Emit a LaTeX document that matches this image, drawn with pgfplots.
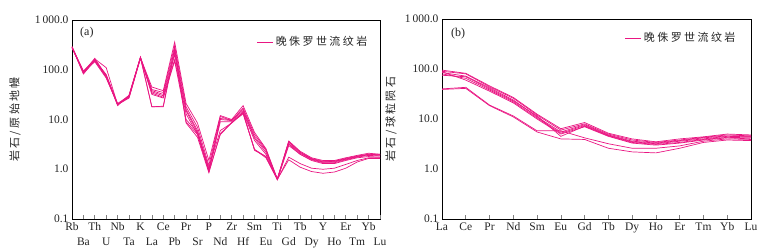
\documentclass[border=0pt]{standalone}
\usepackage{fontspec}
\setmainfont{Liberation Serif}
\newfontfamily\cjk[LetterSpace=22]{Noto Sans CJK SC}
\usepackage{pgfplots}
\usepackage{pgfplotstable}
\pgfplotsset{compat=1.18}
\definecolor{pk}{RGB}{233,22,130}
\definecolor{lbl}{RGB}{35,35,35}

\pgfplotstableread{
i s1 s2 s3 s4 s5 s6 s7 s8
0 290 285 280 275 285 295 280 285
1 88 82 90 95 85 92 88 90
2 165 155 170 160 150 145 160 155
3 110 80 75 70 72 68 75 78
4 20 20 19 20 21 20 20 20
5 30 29 31 28 30 27 30 28
6 175 170 178 172 180 170 175 178
7 45 40 38 36 34 32 18 18
8 38 35 32 30 28 27 18.5 18
9 360 300 250 200 160 150 280 230
10 21 18 16 15 13 10 9 8.5
11 8.5 7 6 5.5 5 5.5 5 4.4
12 1.5 1.2 1.0 0.9 0.95 1.1 0.9 0.85
13 12 11.5 10.5 10 9 6 5 5.2
14 10 9.5 9.8 9.5 9 8.5 8.5 8.7
15 19 17 16 15 14 13.5 14 13
16 5.5 5 4.5 4.2 3.8 2.5 2.4 2.5
17 2.6 2.5 2.4 2.2 2.0 1.8 1.8 1.7
18 0.64 0.63 0.62 0.63 0.64 0.62 0.62 0.63
19 3.7 3.5 3.3 3.2 3.6 3.0 1.75 1.55
20 2.3 2.2 2.1 2.0 2.2 2.0 1.3 1.1
21 1.7 1.65 1.6 1.55 1.6 1.5 1.05 0.9
22 1.5 1.45 1.4 1.35 1.4 1.3 1.0 0.83
23 1.5 1.45 1.4 1.35 1.45 1.3 1.05 0.88
24 1.7 1.65 1.6 1.55 1.6 1.5 1.25 1.05
25 1.9 1.85 1.8 1.75 1.8 1.7 1.5 1.4
26 2.1 2.0 1.95 1.9 2.0 1.8 1.7 1.65
27 2.0 1.95 1.9 1.85 2.0 1.75 1.7 1.65
}\tabA

\pgfplotstableread{
i s1 s2 s3 s4 s5 s6 s7 s8
0 95 90 85 80 75 88 40 39
1 82 80 72 65 70 60 43 41
2 46 44 42 38 40 36 19 18.5
3 27 26 24 22 23 21 11.5 11
4 12.5 12 11 10.5 11.5 10 5.8 5.5
5 6.4 6.0 5.5 5.2 4.5 5.0 5.8 4.0
6 8.5 8.0 7.7 7.4 7.2 7.0 4.2 3.9
7 5.2 5.0 4.8 4.7 4.6 4.5 3.2 2.6
8 4.0 3.8 3.6 3.5 3.4 3.3 2.6 2.2
9 3.5 3.4 3.3 3.2 3.1 3.0 2.6 2.1
10 4.0 3.8 3.7 3.6 3.4 3.3 2.9 2.6
11 4.4 4.3 4.2 4.0 3.9 3.8 3.6 3.4
12 5.0 4.8 4.6 4.5 4.3 4.2 4.0 3.8
13 4.8 4.6 4.5 4.4 4.2 4.0 3.9 3.7
}\tabB

\begin{document}
\begin{tikzpicture}
\path[use as bounding box] (-72pt,-31pt) rectangle (698pt,219pt);

\begin{axis}[scale only axis, width=308pt, height=199pt, at={(0pt,0pt)}, anchor=south west,
  ymode=log, ymin=0.1, ymax=1000,
  ytick={0.1,1,10,100,1000},
  yticklabels={0.1,1.0,10.0,100.0,1\,000.0},
  ytick style={draw=none},
  tick align=inside, xtick pos=left, major tick length=4pt,
  xtick style={line width=0.7pt},
  axis line style={line width=0.8pt},
  tick label style={font=\fontsize{11.5}{13}\selectfont, text=lbl},
  legend style={draw=none, fill=none, inner sep=0pt, outer sep=0pt,
    font=\cjk\fontsize{11}{13}\selectfont, text=lbl, anchor=west,
    at={(rel axis cs:0.6,0.889)}},
  legend image code/.code={\draw[pk, line width=1pt] (0pt,0pt) -- (16pt,0pt);},
  ylabel={\cjk\fontsize{11}{13}\selectfont 岩石/原始地幔},
  ylabel style={at={(axis description cs:-0.185,0.5)}, anchor=center, text=lbl},
  xmin=0, xmax=27,
  xtick={0,2,...,26}, xticklabels={Rb,Th,Nb,K,Ce,Pr,P,Zr,Sm,Ti,Tb,Y,Er,Yb},
  extra x ticks={1,3,...,27},
  extra x tick labels={Ba,U,Ta,La,Pb,Sr,Nd,Hf,Eu,Gd,Dy,Ho,Tm,Lu},
  extra x tick style={xticklabel style={yshift=-15pt}},
]
\addplot[pk, line width=0.7pt] table[x=i, y=s1] {\tabA};
\addlegendentry{晚侏罗世流纹岩}
\addplot[pk, line width=0.7pt, forget plot] table[x=i, y=s2] {\tabA};
\addplot[pk, line width=0.7pt, forget plot] table[x=i, y=s3] {\tabA};
\addplot[pk, line width=0.7pt, forget plot] table[x=i, y=s4] {\tabA};
\addplot[pk, line width=0.7pt, forget plot] table[x=i, y=s5] {\tabA};
\addplot[pk, line width=0.7pt, forget plot] table[x=i, y=s6] {\tabA};
\addplot[pk, line width=0.7pt, forget plot] table[x=i, y=s7] {\tabA};
\addplot[pk, line width=0.7pt, forget plot] table[x=i, y=s8] {\tabA};
\node[anchor=west, inner sep=0pt, font=\fontsize{12}{14}\selectfont, text=lbl,
  xshift=8pt, yshift=-13pt] at (rel axis cs:0,1) {(a)};
\end{axis}

\begin{axis}[scale only axis, width=309pt, height=200pt, at={(370pt,0pt)}, anchor=south west,
  ymode=log, ymin=0.1, ymax=1000,
  ytick={0.1,1,10,100,1000},
  yticklabels={0.1,1.0,10.0,100.0,1\,000.0},
  ytick style={draw=none},
  tick align=inside, xtick pos=left, major tick length=4pt,
  xtick style={line width=0.7pt},
  axis line style={line width=0.8pt},
  tick label style={font=\fontsize{11.5}{13}\selectfont, text=lbl},
  legend style={draw=none, fill=none, inner sep=0pt, outer sep=0pt,
    font=\cjk\fontsize{11}{13}\selectfont, text=lbl, anchor=west,
    at={(rel axis cs:0.592,0.905)}},
  legend image code/.code={\draw[pk, line width=1pt] (0pt,0pt) -- (16pt,0pt);},
  ylabel={\cjk\fontsize{11}{13}\selectfont 岩石/球粒陨石},
  ylabel style={at={(axis description cs:-0.165,0.5)}, anchor=center, text=lbl},
  xmin=0, xmax=13,
  xtick={0,...,13}, xticklabels={La,Ce,Pr,Nd,Sm,Eu,Gd,Tb,Dy,Ho,Er,Tm,Yb,Lu},
]
\addplot[pk, line width=0.7pt] table[x=i, y=s1] {\tabB};
\addlegendentry{晚侏罗世流纹岩}
\addplot[pk, line width=0.7pt, forget plot] table[x=i, y=s2] {\tabB};
\addplot[pk, line width=0.7pt, forget plot] table[x=i, y=s3] {\tabB};
\addplot[pk, line width=0.7pt, forget plot] table[x=i, y=s4] {\tabB};
\addplot[pk, line width=0.7pt, forget plot] table[x=i, y=s5] {\tabB};
\addplot[pk, line width=0.7pt, forget plot] table[x=i, y=s6] {\tabB};
\addplot[pk, line width=0.7pt, forget plot] table[x=i, y=s7] {\tabB};
\addplot[pk, line width=0.7pt, forget plot] table[x=i, y=s8] {\tabB};
\node[anchor=west, inner sep=0pt, font=\fontsize{12}{14}\selectfont, text=lbl,
  xshift=9pt, yshift=-15pt] at (rel axis cs:0,1) {(b)};
\end{axis}
\end{tikzpicture}
\end{document}
